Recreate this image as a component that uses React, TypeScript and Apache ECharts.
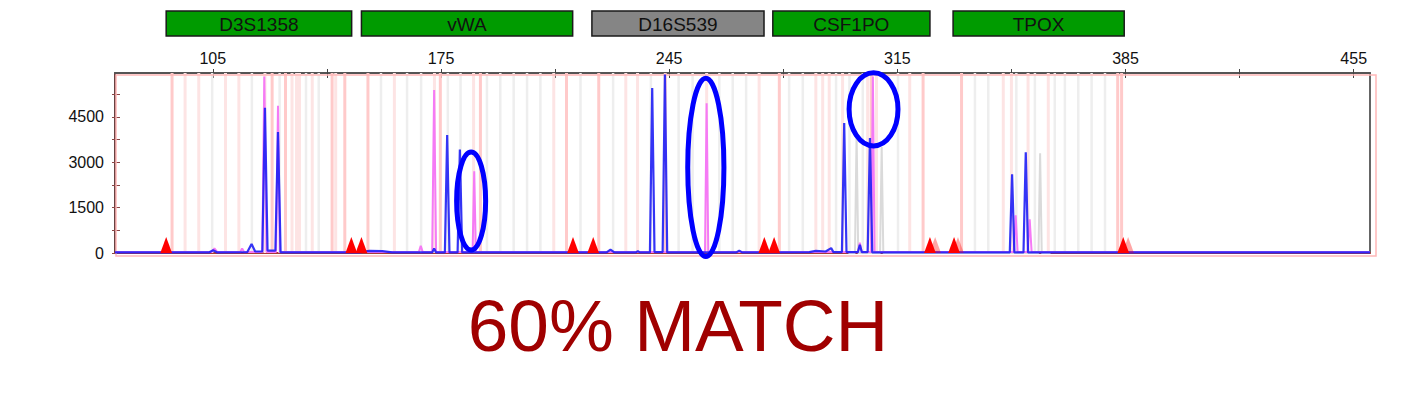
import { useEffect, useRef } from 'react'
import * as echarts from 'echarts'

// size axis (bp) and signal axis (RFU)
const bpMin = 75
const bpMax = 460
const rfuMax = 5950
const bpTicks = [105, 140, 175, 210, 245, 280, 315, 350, 385, 420, 455]
const bpLabels = [105, 175, 245, 315, 385, 455]
const rfuTicks = [0, 750, 1500, 2250, 3000, 3750, 4500, 5250]
const rfuLabels = [0, 1500, 3000, 4500]

// loci: name, start bp, end bp, grey = not matched
const lociNames = ['D3S1358', 'vWA', 'D16S539', 'CSF1PO', 'TPOX']
const lociStart = [90.7, 150.6, 221.3, 276.8, 332.1]
const lociEnd = [147.6, 215.4, 274.1, 325.0, 384.6]
const lociGrey = [false, false, true, false, false]

// allele bins: [bp, kind] kind 0 = strong pink, 1 = light pink, 2 = grey
const bins: [number, number][] = [
  [92.5, 0], [96.5, 1], [100.7, 1], [104.8, 2], [108.9, 1], [113.0, 1], [117.0, 2], [121.0, 1],
  [123.2, 0], [125.5, 2], [127.3, 0], [129.3, 1], [130.7, 1], [131.6, 1], [133.6, 2], [135.5, 1],
  [137.5, 2], [141.6, 0], [142.7, 1], [145.5, 0],
  [152.6, 0], [156.6, 2], [160.7, 1], [164.6, 2], [168.9, 2], [173.0, 1], [174.8, 0], [177.1, 2],
  [181.0, 2], [185.0, 1], [187.1, 0], [189.1, 2], [193.2, 2], [197.3, 2], [201.4, 2], [205.5, 2],
  [209.6, 1], [213.5, 0], [217.8, 2],
  [223.4, 0], [227.8, 2], [231.7, 1], [235.3, 1], [239.4, 2], [243.8, 0], [247.9, 2], [252.2, 2],
  [256.5, 1], [260.4, 2], [264.5, 2], [268.6, 2], [272.6, 1],
  [278.8, 0], [281.8, 2], [286.0, 2], [290.0, 1], [292.1, 1], [294.1, 1], [296.2, 2], [298.2, 1],
  [300.3, 2], [304.4, 2], [305.9, 1], [307.0, 0], [308.6, 1], [315.2, 2], [318.8, 1], [322.9, 0],
  [334.7, 0], [338.8, 2], [342.9, 2], [347.5, 1], [350.0, 1], [351.5, 2], [355.1, 1], [357.2, 2],
  [361.3, 1], [363.3, 2], [366.4, 2], [370.5, 2], [374.6, 2], [378.7, 2], [382.6, 0], [383.8, 0]
]

// electropherogram traces [bp, RFU]
const bluePoints: [number, number][] = [
  [75, 20], [103.8, 20], [105.1, 90], [106.4, 20], [115.6, 30], [116.9, 300], [118.0, 50],
  [120.2, 50], [121.0, 4800], [121.8, 80], [124.2, 80], [125.0, 4000], [125.8, 20],
  [150, 20], [153, 70], [157, 60], [160, 20], [172.3, 20], [172.9, 150], [173.5, 20],
  [176.2, 20], [176.9, 3900], [177.6, 20], [180.1, 20], [180.8, 3420], [181.5, 20],
  [225.8, 20], [227.0, 110], [228.2, 20], [234.8, 20], [235.4, 60], [236.0, 20],
  [239.1, 20], [239.8, 5450], [240.5, 30], [243.0, 30], [243.7, 5900], [244.4, 20],
  [265.6, 20], [266.5, 80], [267.4, 20], [288, 30], [290, 70], [293, 50], [294.7, 160], [295.4, 30],
  [298.0, 30], [298.7, 4300], [299.4, 30], [302.9, 30], [303.5, 270], [304.1, 30],
  [305.9, 30], [306.6, 3800], [307.3, 20], [349.5, 20], [350.2, 2600], [350.9, 20],
  [353.7, 20], [354.4, 3330], [355.1, 20], [460, 20]
]
const pinkPoints: [number, number][] = [
  [75, 30], [104.6, 30], [105.5, 150], [106.4, 30], [113.4, 30], [114.0, 150], [114.6, 30],
  [120.2, 30], [120.8, 5830], [121.5, 30], [124.4, 30], [125.0, 4870], [125.6, 30],
  [168.2, 30], [168.8, 240], [169.4, 30], [172.3, 30], [172.9, 5390], [173.5, 30],
  [184.7, 30], [185.2, 2700], [185.7, 30], [256.0, 30], [256.5, 4950], [257.0, 30],
  [302.9, 30], [303.5, 340], [304.1, 30], [307.0, 30], [307.5, 5830], [308.0, 30],
  [350.7, 30], [351.3, 1250], [351.9, 30], [355.0, 30], [355.6, 1110], [356.2, 30], [460, 30]
]
const greyPoints: [number, number][] = [
  [300, 0], [302.0, 0], [302.5, 3900], [303.0, 0], [309.7, 0], [310.2, 3500], [310.7, 0],
  [358.3, 0], [358.8, 3300], [359.3, 0], [362, 0]
]

// size-standard markers [bp, faded]
const markers: [number, number][] = [
  [90.7, 0], [147.5, 0], [150.6, 0], [215.5, 0], [221.7, 0], [274.2, 0], [277.2, 0],
  [325.0, 0], [326.6, 1], [332.4, 0], [333.6, 1], [384.3, 0], [385.8, 1]
]

// annotation ellipses: [bpFrom, bpTo, rfuFrom, rfuTo]
const rings: [number, number, number, number][] = [
  [179.8, 188.7, 99, 3342],
  [250.7, 261.8, -116, 5774],
  [300.2, 315.2, 3541, 5956]
]

const FONT = "'Liberation Sans', Arial, sans-serif"
const binColors = ['#ffcaca', '#fde4e4', '#eeeeee']
const binWidths = [3, 3, 2.5]
const MARK_HALF = 1.8
const MARK_H = 530

const App: React.FC = () => {
  const chartRef = useRef<HTMLDivElement>(null)

  useEffect(() => {
    if (!chartRef.current) return
    const chart = echarts.init(chartRef.current, undefined, { renderer: 'svg' })

    const xBase = { type: 'value', min: bpMin, max: bpMax, splitLine: { show: false } }
    const yBase = { type: 'value', min: 0, max: rfuMax, splitLine: { show: false } }

    const option: any = {
      animation: false,
      grid: { left: 107, right: 23, top: 65, bottom: 153, show: true, borderColor: '#333', borderWidth: 1.5 },
      xAxis: [
        {
          ...xBase,
          position: 'top',
          axisLine: { show: true, onZero: false, lineStyle: { color: '#555', width: 2 } },
          axisTick: { show: true, length: 4, customValues: bpTicks, lineStyle: { color: '#444' } },
          axisLabel: {
            customValues: bpLabels,
            margin: 7,
            fontSize: 16,
            color: '#111',
            fontFamily: FONT,
            formatter: (v: number) => String(v)
          }
        },
        {
          ...xBase,
          position: 'top',
          axisLine: { show: false, onZero: false },
          axisTick: { show: true, inside: true, length: 5, customValues: bpTicks, lineStyle: { color: '#444' } },
          axisLabel: { show: false }
        },
        {
          ...xBase,
          position: 'bottom',
          axisLine: { show: true, onZero: false, lineStyle: { color: '#a83838', width: 2 } },
          axisTick: { show: false },
          axisLabel: { show: false }
        }
      ],
      yAxis: [
        {
          ...yBase,
          position: 'left',
          axisLine: { show: true, onZero: false, lineStyle: { color: '#6a3535', width: 1.5 } },
          axisTick: { show: true, length: 3, customValues: rfuTicks, lineStyle: { color: '#8a4545' } },
          axisLabel: {
            customValues: rfuLabels,
            margin: 11,
            fontSize: 16,
            color: '#111',
            fontFamily: FONT,
            formatter: (v: number) => String(v)
          }
        },
        {
          ...yBase,
          position: 'left',
          axisLine: { show: false, onZero: false },
          axisTick: { show: true, inside: true, length: 5, customValues: rfuTicks, lineStyle: { color: '#8a4545' } },
          axisLabel: { show: false }
        }
      ],
      graphic: [
        {
          type: 'text',
          x: 670,
          y: 317,
          style: { text: '60% MATCH', fontSize: 73, fontFamily: FONT, fill: '#a00000', align: 'center', verticalAlign: 'middle' }
        }
      ],
      series: [
        {
          type: 'custom',
          name: 'bins',
          data: bins,
          encode: { x: 0, y: 1 },
          clip: true,
          z: 1,
          renderItem: (_p: any, api: any) => {
            const k = api.value(1)
            const top = api.coord([api.value(0), rfuMax])
            const bot = api.coord([api.value(0), 0])
            const w = binWidths[k]
            return {
              type: 'rect',
              shape: { x: top[0] - w / 2, y: top[1], width: w, height: bot[1] - top[1] },
              style: { fill: binColors[k] }
            }
          }
        },
        {
          type: 'custom',
          name: 'frame',
          data: [[bpMin, bpMax]],
          encode: { x: [0, 1] },
          clip: false,
          z: 1,
          renderItem: (_p: any, api: any) => {
            const a = api.coord([bpMin, rfuMax])
            const b = api.coord([bpMax, 0])
            return {
              type: 'rect',
              shape: { x: a[0] + 1, y: a[1] + 2, width: b[0] - a[0] + 5, height: b[1] - a[1] + 1 },
              style: { fill: 'none', stroke: '#ffb8b8', lineWidth: 1.5 }
            }
          }
        },
        {
          type: 'line',
          name: 'grey',
          data: greyPoints,
          showSymbol: false,
          z: 2,
          lineStyle: { color: '#dadada', width: 2 }
        },
        {
          type: 'line',
          name: 'pink',
          data: pinkPoints,
          showSymbol: false,
          z: 3,
          lineStyle: { color: '#f57af5', width: 2 }
        },
        {
          type: 'line',
          name: 'blue',
          data: bluePoints,
          showSymbol: false,
          z: 4,
          lineStyle: { color: '#1e1ef5', width: 2.2, opacity: 0.9 }
        },
        {
          type: 'custom',
          name: 'markers',
          data: markers,
          encode: { x: 0, y: 1 },
          clip: true,
          z: 5,
          renderItem: (_p: any, api: any) => {
            const x = api.value(0)
            const faded = api.value(1) === 1
            return {
              type: 'polygon',
              shape: {
                points: [api.coord([x - MARK_HALF, 0]), api.coord([x, MARK_H]), api.coord([x + MARK_HALF, 0])]
              },
              style: { fill: '#ff0000', opacity: faded ? 0.35 : 1 }
            }
          }
        },
        {
          type: 'custom',
          name: 'loci',
          data: lociStart.map((s, i) => [s, lociEnd[i]]),
          encode: { x: [0, 1] },
          clip: false,
          z: 6,
          renderItem: (p: any, api: any) => {
            const i = p.dataIndex
            const a = api.coord([api.value(0), rfuMax])
            const b = api.coord([api.value(1), rfuMax])
            const top = a[1] - 62
            const h = 25
            return {
              type: 'group',
              children: [
                {
                  type: 'rect',
                  shape: { x: a[0], y: top, width: b[0] - a[0], height: h },
                  style: { fill: lociGrey[i] ? '#858585' : '#009b00', stroke: '#1a1a1a', lineWidth: 1.5 }
                },
                {
                  type: 'text',
                  style: {
                    text: lociNames[i],
                    x: (a[0] + b[0]) / 2,
                    y: top + h / 2 + 1,
                    align: 'center',
                    verticalAlign: 'middle',
                    fontSize: 19,
                    fontFamily: FONT,
                    fill: '#111'
                  }
                }
              ]
            }
          }
        },
        {
          type: 'custom',
          name: 'rings',
          data: rings,
          encode: { x: [0, 1], y: [2, 3] },
          clip: false,
          z: 7,
          renderItem: (_p: any, api: any) => {
            const a = api.coord([api.value(0), api.value(3)])
            const b = api.coord([api.value(1), api.value(2)])
            return {
              type: 'ellipse',
              shape: { cx: (a[0] + b[0]) / 2, cy: (a[1] + b[1]) / 2, rx: (b[0] - a[0]) / 2, ry: (b[1] - a[1]) / 2 },
              style: { fill: 'none', stroke: '#0000ff', lineWidth: 5 }
            }
          }
        }
      ]
    }

    chart.setOption(option)
    return () => chart.dispose()
  }, [])

  return <div ref={chartRef} style={{ width: 1385, height: 398 }} />
}

export default App
